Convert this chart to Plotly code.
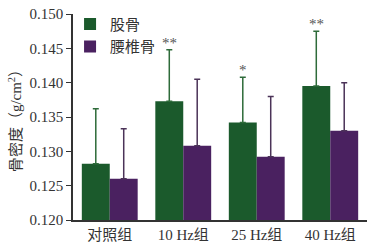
import plotly.graph_objects as go

categories = ["对照组", "10 Hz组", "25 Hz组", "40 Hz组"]
femur = [0.1282, 0.1373, 0.1342, 0.1395]
femur_err = [0.0080, 0.0075, 0.0066, 0.0080]
lumbar = [0.1260, 0.1308, 0.1292, 0.1330]
lumbar_err = [0.0073, 0.0097, 0.0088, 0.0070]
sig = ["", "**", "*", "**"]
yticks = [0.120, 0.125, 0.130, 0.135, 0.140, 0.145, 0.150]

GREEN = "#1b5a2c"
PURPLE = "#4a2160"
TEXT = "#333333"
FONT = "Liberation Serif, Noto Sans CJK SC, serif"

fig = go.Figure()
fig.add_trace(go.Bar(
    x=categories, y=femur, name="股骨", marker_color=GREEN, marker_line_width=0,
    hoverinfo="skip",
    error_y=dict(type="data", array=femur_err, arrayminus=[0]*4, symmetric=False,
                 color="#2e6b3a", thickness=1.5, width=3),
))
fig.add_trace(go.Bar(
    x=categories, y=lumbar, name="腰椎骨", marker_color=PURPLE, marker_line_width=0,
    hoverinfo="skip",
    error_y=dict(type="data", array=lumbar_err, arrayminus=[0]*4, symmetric=False,
                 color="#4b3358", thickness=1.5, width=3),
))

for c, v, e, s in zip(categories, femur, femur_err, sig):
    if s:
        fig.add_annotation(x=c, y=v + e, text=s, showarrow=False, xshift=-14,
                           yanchor="bottom", yshift=-3,
                           font=dict(family=FONT, size=15, color="#555555"))

fig.update_layout(
    width=372, height=243,
    margin=dict(l=73, r=5, t=14, b=23, autoexpand=False),
    paper_bgcolor="white", plot_bgcolor="white",
    barmode="group", bargap=0.24, bargroupgap=0,
    font=dict(family=FONT, size=15, color=TEXT),
    showlegend=True,
    legend=dict(x=-0.01, y=1.03, xanchor="left", yanchor="top",
                bgcolor="rgba(0,0,0,0)", font=dict(size=15, color=TEXT),
                itemwidth=30, tracegroupgap=4),
    xaxis=dict(showline=True, linecolor=TEXT, linewidth=1.5, ticks="",
               tickfont=dict(size=15, color=TEXT), ticklabelstandoff=0, automargin=False),
    yaxis=dict(range=[0.120, 0.150], tickvals=yticks,
               ticktext=[f"{t:.3f}" for t in yticks],
               showline=True, linecolor=TEXT, linewidth=1.5,
               ticks="outside", ticklen=5, tickcolor=TEXT,
               showgrid=False, zeroline=False, automargin=False,
               tickfont=dict(size=15, color=TEXT),
               title=dict(text="骨密度（g/cm<sup>2</sup>）", font=dict(size=15, color=TEXT), standoff=4)),
)

fig.write_html("out.html",
               config={"displayModeBar": False},
               post_script="document.body.style.margin='0';document.body.style.padding='0';")
